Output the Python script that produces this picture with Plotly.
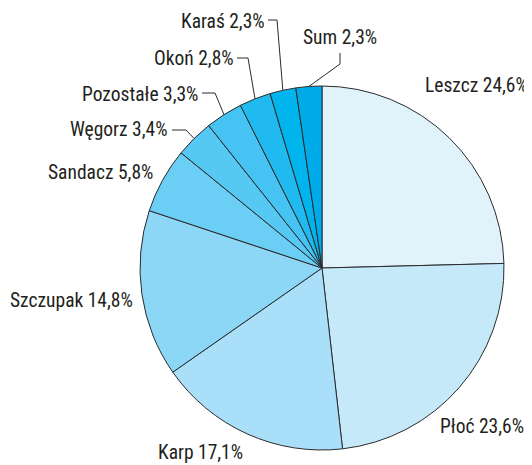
import math
import plotly.graph_objects as go

# ---- data ----
categories = ["Leszcz", "Płoć", "Karp", "Szczupak", "Sandacz", "Węgorz",
              "Pozostałe", "Okoń", "Karaś", "Sum"]
shares = [24.6, 23.6, 17.1, 14.8, 5.8, 3.4, 3.3, 2.8, 2.3, 2.3]
colors = ["#E0F3FB", "#C6E9F9", "#AADFF9", "#8DD7F6", "#6BCEF5",
          "#55C8F4", "#45C3F3", "#20BAF0", "#00B4EE", "#00ABEA"]

# page body has an 8px default margin -> figure is drawn 8px in from the corner
OFF = 8
W, H = 532 - OFF, 465 - OFF
CX, CY, R = 322, 268, 182  # pie centre / radius in screen pixels


def px(x, y):
    return (x - OFF) / W, 1 - (y - OFF) / H


x0, y1 = px(CX - R, CY - R)
x1, y0 = px(CX + R, CY + R)

fig = go.Figure(go.Pie(
    labels=categories, values=shares, sort=False, direction="clockwise",
    rotation=0, textinfo="none", hoverinfo="label+percent",
    marker=dict(colors=colors, line=dict(color="#2b2b2b", width=1)),
    domain=dict(x=[x0, x1], y=[y0, y1]),
))


def fmt(v):
    return f"{v:.1f}".replace(".", ",") + "%"


# label placement (screen pixel anchor, side) and leader elbows
label_pos = {
    "Leszcz": (424, 86, "left"),
    "Płoć": (439, 426, "left"),
    "Karp": (157, 452, "left"),
    "Szczupak": (134, 300, "right"),
    "Sandacz": (154, 172, "right"),
    "Węgorz": (169, 129, "right"),
    "Pozostałe": (199, 94, "right"),
    "Okoń": (235, 58, "right"),
    "Karaś": (266, 22, "right"),
    "Sum": (302, 37, "left"),
}
leaders = {
    "Węgorz": [(172, 130), (186, 130)],
    "Pozostałe": [(202, 93), (215, 93)],
    "Okoń": [(237, 58), (248, 58)],
    "Karaś": [(268, 20), (277, 20)],
    "Sum": [(340, 53), (340, 64)],
}

FONT = "Roboto Condensed, Liberation Sans, sans-serif"
annotations = []
shapes = []
total = sum(shares)
cum = 0.0
for cat, v in zip(categories, shares):
    mid = (cum + v / 2) / total * 2 * math.pi
    cum += v
    x, y, side = label_pos[cat]
    xp, yp = px(x, y)
    annotations.append(dict(
        x=xp, y=yp, xref="paper", yref="paper", showarrow=False,
        text=f"{cat} {fmt(v)}", xanchor=side, yanchor="middle",
        borderpad=0, font=dict(family=FONT, size=19.5, color="#231F20")))
    if cat in leaders:
        ex = CX + R * math.sin(mid)
        ey = CY - R * math.cos(mid)
        pts = leaders[cat] + [(ex, ey)]
        path = "M " + " L ".join(
            "{},{}".format(*px(a, b)) for a, b in pts)
        shapes.append(dict(type="path", xref="paper", yref="paper",
                           path=path, line=dict(color="#2b2b2b", width=1)))

fig.update_layout(
    width=W, height=H, margin=dict(l=0, r=0, t=0, b=0),
    paper_bgcolor="white", plot_bgcolor="white", showlegend=False,
    annotations=annotations, shapes=shapes,
)
fig.write_html("out.html")
